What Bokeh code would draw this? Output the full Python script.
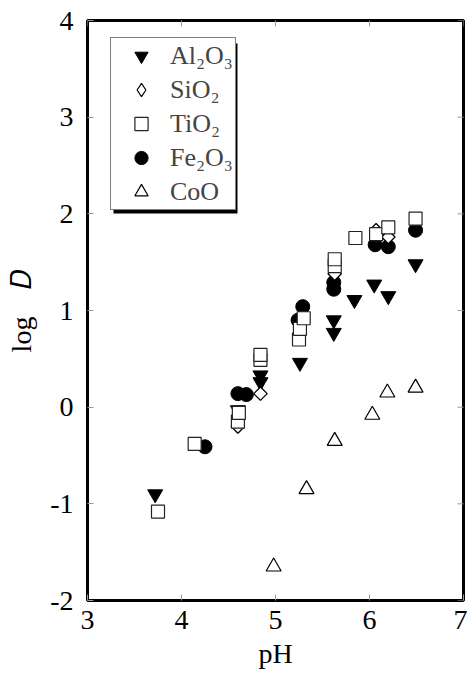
import numpy as np
from bokeh.plotting import figure
from bokeh.models import (Range1d, Legend, LegendItem,
                          BoxAnnotation, FixedTicker)
from bokeh.embed import file_html
from bokeh.resources import INLINE

# ---- data ----
al2o3_ph = [3.72, 4.60, 4.84, 4.84, 5.26, 5.62, 5.62, 5.84, 6.05, 6.20, 6.49]
al2o3_logd = [-0.90, -0.03, 0.33, 0.26, 0.46, 0.90, 0.77, 1.11, 1.27, 1.15, 1.48]

sio2_ph = [4.60, 4.84, 5.63, 6.07, 6.20]
sio2_logd = [-0.20, 0.14, 1.38, 1.83, 1.76]

tio2_ph = [3.75, 4.14, 4.60, 4.61, 4.84, 4.84, 5.25, 5.26, 5.30, 5.63, 5.63, 5.85, 6.07, 6.20, 6.49]
tio2_logd = [-1.08, -0.38, -0.15, -0.06, 0.49, 0.54, 0.70, 0.81, 0.92, 1.46, 1.53, 1.75, 1.79, 1.86, 1.95]

fe2o3_ph = [4.25, 4.60, 4.69, 5.24, 5.29, 5.62, 5.62, 6.06, 6.20, 6.49]
fe2o3_logd = [-0.41, 0.14, 0.13, 0.90, 1.04, 1.29, 1.22, 1.68, 1.66, 1.83]

coo_ph = [4.98, 5.33, 5.63, 6.03, 6.19, 6.49]
coo_logd = [-1.65, -0.85, -0.35, -0.08, 0.15, 0.20]

x_ticks = [3, 4, 5, 6, 7]
y_ticks = [-2, -1, 0, 1, 2, 3, 4]
y_tick_labels = {-2: "-2", -1: "-1", 0: "0", 1: "1", 2: "2", 3: "3", 4: "4"}
series_names = ["Al₂O₃", "SiO₂", "TiO₂", "Fe₂O₃", "CoO"]
x_title = "pH"
y_title = "log\u2003𝐷"

FONT = "Liberation Serif"
TICK_GRAY = "#9a9a9a"

p = figure(width=467, height=678, output_backend="svg", toolbar_location=None,
           x_range=Range1d(3, 7), y_range=Range1d(-2, 4),
           min_border_left=87, min_border_right=4, min_border_top=20,
           min_border_bottom=78)
p.grid.visible = False
p.outline_line_color = "black"
p.outline_line_width = 3
p.background_fill_color = "white"
p.border_fill_color = "white"

for ax, ticks in ((p.xaxis[0], x_ticks), (p.yaxis[0], y_ticks)):
    ax.ticker = FixedTicker(ticks=ticks)
    ax.axis_line_color = None
    ax.major_tick_in = 6
    ax.major_tick_out = 0
    ax.major_tick_line_color = TICK_GRAY
    ax.major_tick_line_width = 1
    ax.minor_tick_line_color = None
    ax.major_label_text_font = FONT
    ax.major_label_text_font_size = "28px"
    ax.major_label_text_color = "black"
    ax.axis_label_text_font = FONT
    ax.axis_label_text_font_size = "28px"
    ax.axis_label_text_font_style = "normal"
    ax.axis_label_text_color = "black"
p.yaxis[0].major_label_overrides = y_tick_labels
p.xaxis[0].major_label_standoff = 10
p.yaxis[0].major_label_standoff = 14
p.xaxis[0].axis_label = x_title
p.xaxis[0].axis_label_standoff = 6
p.yaxis[0].axis_label = y_title
p.yaxis[0].axis_label_standoff = 10

# inward ticks on the top and right edges (half of each dash is clipped by the frame)
p.scatter(x_ticks, [4] * len(x_ticks), marker="dash", angle=np.pi / 2, size=12,
          line_color=TICK_GRAY, line_width=1)
p.scatter([7] * len(y_ticks), y_ticks, marker="dash", size=12,
          line_color=TICK_GRAY, line_width=1)

# ---- markers ----
r_al = p.scatter(al2o3_ph, al2o3_logd, marker="inverted_triangle", size=15,
                 fill_color="black", line_color="black")
r_fe = p.scatter(fe2o3_ph, fe2o3_logd, marker="circle", size=14,
                 fill_color="black", line_color="black")
# diamond glyph used for the legend key; drawn underneath the rotated squares
r_si_key = p.scatter(sio2_ph, sio2_logd, marker="diamond", size=12,
                     fill_color="white", line_color="black", line_width=1.2)
r_si = p.scatter(sio2_ph, sio2_logd, marker="square", angle=np.pi / 4, size=9.5,
                 fill_color="white", line_color="black", line_width=1.3)
r_ti = p.scatter(tio2_ph, tio2_logd, marker="square", size=13,
                 fill_color="white", line_color="#222222", line_width=1.2)
r_co = p.scatter(coo_ph, coo_logd, marker="triangle", size=15,
                 fill_color="white", line_color="black", line_width=1.2)

# ---- legend with shadow ----
shadow = BoxAnnotation(left=113, right=237, top=43, bottom=213,
                       left_units="canvas", right_units="canvas",
                       top_units="canvas", bottom_units="canvas",
                       fill_color="black", fill_alpha=1, line_color=None)
p.add_layout(shadow)

legend = Legend(items=[
    LegendItem(label=series_names[0], renderers=[r_al]),
    LegendItem(label=series_names[1], renderers=[r_si_key]),
    LegendItem(label=series_names[2], renderers=[r_ti]),
    LegendItem(label=series_names[3], renderers=[r_fe]),
    LegendItem(label=series_names[4], renderers=[r_co]),
], location=(23, 390), orientation="vertical",
    label_text_font=FONT, label_text_font_size="26px",
    glyph_width=58, glyph_height=33, label_height=33, label_width=64,
    spacing=1, padding=1, margin=0, label_standoff=0,
    border_line_color="black", border_line_width=1.5,
    background_fill_color="white", background_fill_alpha=1)
p.add_layout(legend)

open("out.html", "w").write(file_html(p, INLINE))
